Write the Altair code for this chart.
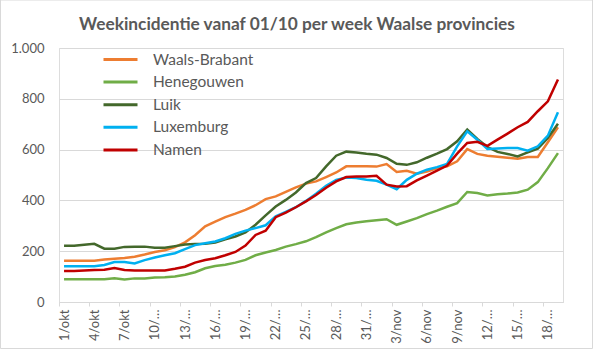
import altair as alt
import pandas as pd

# Categories: days from 1 Oct to 19 Nov
dates = [f"{d}/okt" for d in range(1, 32)] + [f"{d}/nov" for d in range(1, 20)]
tick_labels = dates[::3]

series_names = ["Waals-Brabant", "Henegouwen", "Luik", "Luxemburg", "Namen"]
series_colors = ["#ED7D31", "#70AD47", "#43682B", "#00B0F0", "#C00000"]
chart_title = "Weekincidentie vanaf 01/10 per week Waalse provincies"

waals_brabant = [162, 162, 162, 162, 167, 170, 173, 178, 187, 197,
                 204, 216, 235, 263, 298, 316, 334, 348, 363, 381,
                 405, 416, 434, 451, 466, 475, 492, 510, 534, 534,
                 534, 533, 543, 512, 517, 505, 514, 526, 534, 554,
                 602, 583, 576, 572, 568, 564, 571, 571, 629, 688]
henegouwen = [90, 90, 90, 90, 90, 93, 89, 93, 93, 96,
              97, 100, 107, 117, 133, 142, 147, 155, 166, 184,
              195, 205, 218, 228, 239, 255, 274, 291, 306, 313,
              318, 322, 326, 304, 317, 330, 346, 360, 375, 389,
              433, 429, 419, 424, 427, 431, 442, 472, 527, 586]
luik = [221, 221, 225, 229, 210, 210, 217, 218, 218, 214,
        214, 220, 226, 228, 229, 234, 247, 258, 274, 304,
        341, 376, 402, 431, 468, 488, 534, 576, 592, 589,
        584, 580, 567, 544, 540, 550, 568, 584, 602, 633,
        679, 642, 610, 591, 583, 573, 589, 604, 646, 702]
luxemburg = [141, 141, 141, 141, 146, 157, 157, 152, 165, 175,
             184, 192, 208, 224, 231, 238, 251, 268, 281, 291,
             302, 337, 355, 373, 398, 426, 458, 481, 490, 488,
             481, 477, 462, 444, 481, 505, 521, 531, 544, 613,
             672, 639, 602, 604, 606, 606, 596, 613, 655, 747]
namen = [122, 122, 124, 126, 127, 134, 126, 124, 124, 124,
         124, 131, 139, 155, 165, 172, 184, 197, 222, 264,
         281, 334, 352, 373, 396, 421, 450, 475, 492, 494,
         494, 497, 462, 455, 456, 479, 498, 517, 537, 584,
         626, 631, 615, 639, 663, 688, 709, 751, 790, 876]

all_series = [waals_brabant, henegouwen, luik, luxemburg, namen]

rows = []
for name, vals in zip(series_names, all_series):
    for d, v in zip(dates, vals):
        rows.append({"datum": d, "provincie": name, "waarde": v})
df = pd.DataFrame(rows)

FONT = "Lato"
TXT = "#595959"
W, H = 504, 254
step = W / len(dates)

lines = alt.Chart(df).mark_line(strokeWidth=2.5).encode(
    x=alt.X(
        "datum:O",
        sort=dates,
        title=None,
        scale=alt.Scale(padding=0.5),
        axis=alt.Axis(
            values=tick_labels,
            labelAngle=270,
            labelExpr="length(datum.label) > 5 ? substring(datum.label, 0, 3) + '…' : datum.label",
            tickOffset=-step / 2,
            labelOffset=step / 2,
            tickSize=4,
            tickColor="#D9D9D9",
            domainColor="#D9D9D9",
            labelColor=TXT,
            labelFont=FONT,
            labelFontSize=13,
            labelPadding=3,
            grid=False,
        ),
    ),
    y=alt.Y(
        "waarde:Q",
        title=None,
        scale=alt.Scale(domain=[0, 1000]),
        axis=alt.Axis(
            values=[0, 200, 400, 600, 800, 1000],
            labelExpr="replace(format(datum.value, ','), ',', '.')",
            domain=False,
            ticks=False,
            gridColor="#D9D9D9",
            labelColor=TXT,
            labelFont=FONT,
            labelFontSize=13,
            labelPadding=15,
        ),
    ),
    color=alt.Color(
        "provincie:N",
        scale=alt.Scale(domain=series_names, range=series_colors),
        legend=alt.Legend(
            title=None,
            orient="none",
            legendX=43,
            legendY=2.5,
            padding=0,
            symbolType="stroke",
            symbolSize=1156,
            symbolStrokeWidth=3,
            labelFont=FONT,
            labelFontSize=15.5,
            labelColor=TXT,
            labelOffset=14,
            clipHeight=18,
            rowPadding=4.6,
        ),
    ),
)

title_layer = alt.Chart(pd.DataFrame({"t": [chart_title]})).mark_text(
    font=FONT, fontSize=17.3, fontWeight="bold", color=TXT,
    align="center", baseline="alphabetic"
).encode(text="t:N", x=alt.value(238), y=alt.value(-18))

border = alt.Chart(pd.DataFrame({"a": [0]})).mark_rect(
    fill=None, stroke="#D9D9D9", strokeWidth=1
).encode(
    x=alt.value(-58.5), x2=alt.value(533.5), y=alt.value(-48), y2=alt.value(300.5)
)

chart = alt.layer(lines, title_layer, border).properties(
    width=W,
    height=H,
    autosize=alt.AutoSizeParams(type="none"),
    padding={"left": 59, "top": 48, "right": 30, "bottom": 47},
).configure_view(stroke=None).configure(background="white")

chart.save("out.html", embed_options={"renderer": "svg", "actions": False})
